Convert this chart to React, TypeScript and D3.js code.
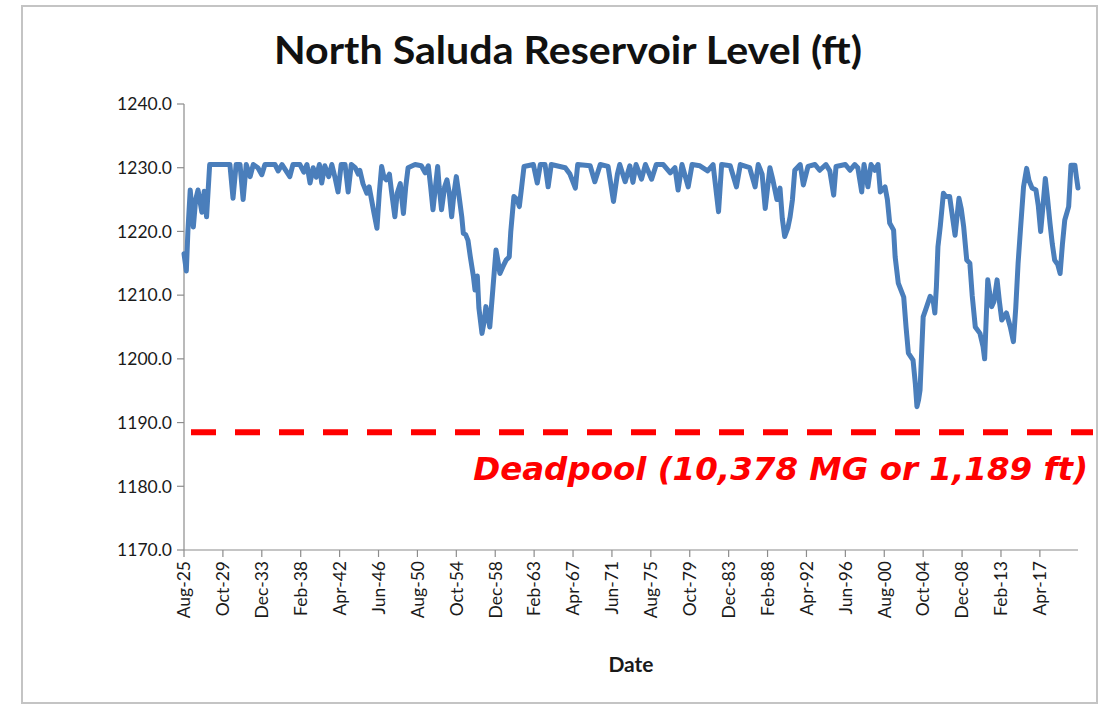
import React from "react";
import * as d3 from "d3";

// Months since Aug-1925 (monthly record, sampled) and reservoir level (ft)
const monthOffsets = [
  0, 3, 5, 8, 12, 15, 18, 23, 26, 29, 33, 59, 63, 67, 72, 76, 80, 85, 89, 95,
  100, 104, 117, 121, 126, 136, 140, 149, 154, 158, 162, 166, 170, 174, 177, 181, 186, 190, 194, 198,
  202, 207, 211, 215, 220, 224, 226, 230, 235, 238, 241, 244, 248, 251, 254, 257, 260, 264, 267, 271,
  274, 278, 282, 285, 288, 297, 305, 310, 314, 317, 320, 326, 328, 331, 335, 338, 341, 344, 347, 350,
  353, 357, 359, 362, 365, 368, 372, 374, 377, 379, 383, 386, 388, 391, 393, 397, 401, 404, 406, 410,
  414, 418, 420, 424, 428, 431, 434, 437, 449, 454, 458, 464, 468, 472, 490, 496, 503, 506, 522, 528,
  535, 545, 552, 557, 560, 567, 573, 577, 581, 588, 593, 601, 607, 616, 625, 631, 635, 640, 648, 653,
  663, 673, 680, 687, 691, 702, 710, 715, 727, 734, 738, 743, 747, 753, 757, 762, 766, 769, 772, 776,
  779, 782, 785, 792, 796, 802, 811, 817, 825, 830, 835, 838, 850, 856, 862, 866, 871, 874, 879, 883,
  888, 892, 895, 901, 904, 907, 912, 914, 918, 925, 928, 931, 937, 940, 942, 944, 946, 950, 954, 959,
  963, 965, 967, 969, 972, 976, 979, 984, 988, 991, 996, 999, 1002, 1006, 1010, 1013, 1017, 1023, 1027, 1029,
  1033, 1038, 1041, 1045, 1048, 1051, 1057, 1062, 1066, 1069, 1072, 1075, 1079, 1083, 1086, 1090, 1095, 1098, 1101, 1104,
  1107, 1110, 1113, 1116, 1119, 1123, 1126, 1129, 1132, 1137, 1140, 1145, 1147, 1149,
];

const levels = [
  1216.5, 1213.8, 1220, 1226.5, 1220.7, 1225, 1226.5, 1223, 1226.3, 1222.3, 1230.5, 1230.5, 1225.2, 1230.5, 1230.5, 1225, 1230.5, 1228.6, 1230.5, 1230,
  1228.9, 1230.5, 1230.5, 1229.5, 1230.5, 1228.6, 1230.5, 1230.5, 1229.3, 1230.5, 1227.6, 1230, 1228.5, 1230.5, 1227.6, 1230.3, 1228.6, 1230.5, 1228.5, 1226.2,
  1230.5, 1230.5, 1226.2, 1230.5, 1230, 1229, 1229.6, 1227.5, 1226, 1227, 1225, 1223, 1220.5, 1226, 1230.2, 1228.5, 1228.1, 1229, 1226, 1222.3,
  1226, 1227.5, 1222.8, 1227, 1230, 1230.5, 1230.3, 1229.2, 1230.3, 1227, 1223.4, 1230.2, 1227, 1223.4, 1227, 1228.1, 1226, 1222.3, 1226, 1228.6,
  1226, 1222.3, 1219.7, 1219.5, 1218.6, 1216, 1212.9, 1210.8, 1213, 1208, 1204, 1206, 1208.2, 1206.5, 1205, 1211, 1217.1, 1215, 1213.4, 1214.5,
  1215.5, 1216, 1220, 1225.5, 1225, 1223.9, 1227, 1230.2, 1230.5, 1227.6, 1230.5, 1230.5, 1227, 1230.5, 1230, 1229, 1226.8, 1230.5, 1230.3, 1227.8,
  1230.5, 1230.2, 1224.7, 1229, 1230.5, 1227.8, 1230.3, 1227.7, 1230.5, 1228.2, 1230.5, 1228.2, 1230.5, 1230.5, 1229.2, 1230, 1226.5, 1230.5, 1227, 1230.5,
  1230.3, 1229.5, 1230.5, 1223.1, 1230.5, 1230.3, 1227, 1230.5, 1230, 1227, 1230.5, 1229, 1223.6, 1230, 1228, 1225, 1226.8, 1222, 1219.2, 1220.5,
  1222.3, 1225, 1229.6, 1230.5, 1227.3, 1230.2, 1230.5, 1229.6, 1230.5, 1229.5, 1225.7, 1230.2, 1230.5, 1229.6, 1230.5, 1230, 1226.2, 1230.5, 1227, 1230.5,
  1229.6, 1230.5, 1226.2, 1227, 1225, 1221.3, 1220.2, 1216, 1211.9, 1209.7, 1205, 1200.9, 1199.8, 1196, 1192.5, 1193.5, 1195.1, 1206.6, 1208, 1209.8,
  1209, 1207.2, 1211.3, 1217.6, 1220.8, 1226, 1225.5, 1225.5, 1222, 1219.4, 1225.2, 1223.5, 1220.8, 1215.5, 1215, 1210, 1205, 1204, 1201.9, 1200,
  1212.4, 1208.2, 1209, 1212.4, 1209, 1206.1, 1207.2, 1205, 1202.7, 1208, 1215, 1220.2, 1227, 1229.9, 1228, 1226.8, 1226.5, 1224, 1220, 1224,
  1228.3, 1225, 1221.3, 1218, 1215.5, 1214.8, 1213.4, 1218, 1221.8, 1223.9, 1230.4, 1230.4, 1228.5, 1226.8,
];

const tickLabels = [
  "Aug-25", "Oct-29", "Dec-33", "Feb-38", "Apr-42", "Jun-46", "Aug-50", "Oct-54",
  "Dec-58", "Feb-63", "Apr-67", "Jun-71", "Aug-75", "Oct-79", "Dec-83", "Feb-88",
  "Apr-92", "Jun-96", "Aug-00", "Oct-04", "Dec-08", "Feb-13", "Apr-17",
];
const tickStepMonths = 50;
const lastOffset = 1149;
const yTicks = [1170, 1180, 1190, 1200, 1210, 1220, 1230, 1240];
const deadpoolLevel = 1188.5;
const title = "North Saluda Reservoir Level (ft)";
const xTitle = "Date";
const deadpoolLabel = "Deadpool (10,378 MG or 1,189 ft)";

export default function App() {
  const left = 184, right = 1078, top = 104, bottom = 550;
  const x = d3.scaleLinear().domain([0, lastOffset]).range([left, right]);
  const y = d3.scaleLinear().domain([1170, 1240]).range([bottom, top]);
  const data = monthOffsets.map((m, i) => [m, levels[i]] as [number, number]);
  const path = d3.line<[number, number]>().x((d) => x(d[0])).y((d) => y(d[1]))(data) || "";
  const fmt = d3.format(".1f");
  const font = "Lato, 'Open Sans', sans-serif";
  const axisColor = "#8c8c8c";

  return (
    <svg width={1104} height={705} style={{ position: "absolute", left: 0, top: 0, background: "#fff" }}>
      <rect x={0} y={0} width={1104} height={705} fill="#fff" />
      <rect x={22} y={6} width={1075} height={697} fill="none" stroke="#c4c4c4" strokeWidth={2} />
      <text x={568} y={64} textAnchor="middle" fontFamily={font} fontWeight="bold" fontSize={39}
        textLength={588} lengthAdjust="spacingAndGlyphs" fill="#111">{title}</text>

      {/* y axis */}
      <line x1={left} x2={left} y1={top} y2={bottom} stroke={axisColor} strokeWidth={1.2} />
      {yTicks.map((t) => (
        <g key={t}>
          <line x1={left - 7} x2={left} y1={y(t)} y2={y(t)} stroke={axisColor} strokeWidth={1.2} />
          <text x={left - 12} y={y(t)} dy="0.36em" textAnchor="end" fontFamily={font} fontSize={17.5} fill="#1a1a1a">{fmt(t)}</text>
        </g>
      ))}

      {/* x axis */}
      <line x1={left} x2={right} y1={bottom} y2={bottom} stroke={axisColor} strokeWidth={1.2} />
      {tickLabels.map((lab, i) => {
        const xp = x(i * tickStepMonths);
        return (
          <g key={lab}>
            <line x1={xp} x2={xp} y1={bottom} y2={bottom + 7} stroke={axisColor} strokeWidth={1.2} />
            <text transform={`translate(${xp},${bottom + 11}) rotate(-90)`} dy="0.36em" textAnchor="end"
              fontFamily={font} fontSize={17.5} fill="#1a1a1a">{lab}</text>
          </g>
        );
      })}
      <text x={631} y={672} textAnchor="middle" fontFamily={font} fontWeight="bold" fontSize={21} fill="#1a1a1a">{xTitle}</text>

      {/* series */}
      <path d={path} fill="none" stroke="#4A7EBB" strokeWidth={5} strokeLinejoin="round" strokeLinecap="round" />

      {/* deadpool */}
      <line x1={191} x2={1093} y1={y(deadpoolLevel)} y2={y(deadpoolLevel)} stroke="#ff0000" strokeWidth={6} strokeDasharray="25 19" />
      <text x={1088} y={480} textAnchor="end" fontFamily="'DejaVu Sans', sans-serif" fontWeight="bold" fontStyle="italic"
        fontSize={32.5} fill="#ff0000">{deadpoolLabel}</text>
    </svg>
  );
}
